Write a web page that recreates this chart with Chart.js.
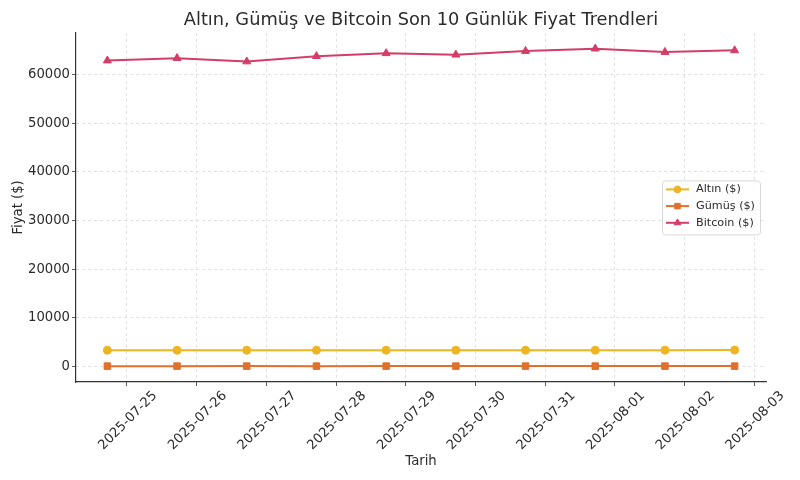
<!DOCTYPE html>
<html>
<head>
<meta charset="utf-8">
<script src="https://cdn.jsdelivr.net/npm/chart.js@4/dist/chart.umd.min.js"></script>
<style>
html,body{margin:0;padding:0;background:#fff;}
#wrap{width:800px;height:480px;}
</style>
</head>
<body>
<div id="wrap"><canvas id="c" width="800" height="480"></canvas></div>
<script>
const dates = ['2025-07-24T17:15','2025-07-25T17:15','2025-07-26T17:15','2025-07-27T17:15','2025-07-28T17:15',
               '2025-07-29T17:15','2025-07-30T17:15','2025-07-31T17:15','2025-08-01T17:15','2025-08-02T17:15'];
const altin   = [3300, 3305, 3310, 3308, 3312, 3318, 3320, 3322, 3325, 3330];
const gumus   = [37.5, 37.8, 38.0, 37.9, 38.1, 38.3, 38.2, 38.4, 38.5, 38.6];
const bitcoin = [62900, 63400, 62700, 63800, 64400, 64100, 64850, 65350, 64650, 65000];
const seriesNames = ['Altın ($)', 'Gümüş ($)', 'Bitcoin ($)'];
const yTicks = [0, 10000, 20000, 30000, 40000, 50000, 60000];
const titleText = 'Altın, Gümüş ve Bitcoin Son 10 Günlük Fiyat Trendleri';
const xTitle = 'Tarih';
const yTitle = 'Fiyat ($)';

const DAY = 86400000;
const xs = dates.map(d => Date.parse(d + ':00Z') / DAY);
const toPts = arr => arr.map((v, i) => ({x: xs[i], y: v}));
const fmt = v => new Date(Math.round(v) * DAY).toISOString().slice(0, 10);

const colors = ['#eeb422', '#e0702c', '#d43d68'];
const styles = ['circle', 'rect', 'triangle'];
const radii = [4, 4.6, 4.6];

const xSpan = xs[xs.length - 1] - xs[0];
const yMaxData = Math.max(...bitcoin);
const yMinData = Math.min(...gumus);
const yMargin = (yMaxData - yMinData) * 0.05;

const FONT = 'DejaVu Sans';
const TXT = '#2b2b2b';

const legendPlugin = {
  id: 'boxLegend',
  afterDraw(chart) {
    const ctx = chart.ctx;
    const ca = chart.chartArea;
    const w = 98, h = 54;
    const x0 = ca.right - 6 - w;
    const y0 = ca.top + (ca.bottom - ca.top) / 2 - h / 2;
    ctx.save();
    ctx.fillStyle = 'rgba(255,255,255,0.85)';
    ctx.strokeStyle = '#d8d8d8';
    ctx.lineWidth = 1;
    ctx.beginPath();
    if (ctx.roundRect) ctx.roundRect(x0 + 0.5, y0 + 0.5, w, h, 3); else ctx.rect(x0 + 0.5, y0 + 0.5, w, h);
    ctx.fill();
    ctx.stroke();
    ctx.font = '11.2px "' + FONT + '"';
    ctx.textBaseline = 'middle';
    ctx.textAlign = 'left';
    chart.data.datasets.forEach((ds, i) => {
      const cy = y0 + 9 + i * 16.7;
      ctx.strokeStyle = ds.borderColor;
      ctx.lineWidth = 2;
      ctx.beginPath();
      ctx.moveTo(x0 + 4, cy);
      ctx.lineTo(x0 + 27, cy);
      ctx.stroke();
      ctx.fillStyle = ds.borderColor;
      ctx.strokeStyle = ds.borderColor;
      ctx.lineWidth = 1;
      Chart.helpers.drawPoint(ctx, {pointStyle: ds.pointStyle, radius: ds.pointRadius * 0.85, borderWidth: 1}, x0 + 15.5, cy);
      ctx.fillStyle = TXT;
      ctx.fillText(ds.label, x0 + 34, cy);
    });
    ctx.restore();
  }
};

const mkDs = (i, arr) => ({
  label: seriesNames[i],
  data: toPts(arr),
  borderColor: colors[i],
  backgroundColor: colors[i],
  pointStyle: styles[i],
  pointRadius: radii[i],
  pointHoverRadius: radii[i],
  pointBorderWidth: 1,
  borderWidth: 2,
  tension: 0
});

new Chart(document.getElementById('c'), {
  type: 'line',
  data: { datasets: [mkDs(0, altin), mkDs(1, gumus), mkDs(2, bitcoin)] },
  plugins: [legendPlugin],
  options: {
    responsive: false,
    animation: false,
    devicePixelRatio: 1,
    layout: { padding: { left: 0, right: 34, top: 0, bottom: 11 } },
    plugins: {
      legend: { display: false },
      tooltip: { enabled: false },
      title: {
        display: true,
        text: titleText,
        fullSize: false,
        color: TXT,
        font: { family: FONT, size: 17.8, weight: 'normal', lineHeight: 1 },
        padding: { top: 11, bottom: 4 }
      }
    },
    scales: {
      x: {
        type: 'linear',
        min: xs[0] - xSpan * 0.05,
        max: xs[xs.length - 1] + xSpan * 0.05,
        afterBuildTicks(scale) {
          const t = [];
          for (let v = Math.ceil(scale.min); v <= Math.floor(scale.max); v++) t.push({value: v});
          scale.ticks = t;
        },
        afterFit(scale) { scale.height = 87; },
        ticks: {
          callback: v => fmt(v),
          maxRotation: 45,
          minRotation: 45,
          autoSkip: false,
          labelOffset: 28,
          padding: 2,
          color: TXT,
          font: { family: FONT, size: 13.2 }
        },
        grid: { color: '#d9d9d9', tickColor: '#333', tickLength: 4, lineWidth: 0.8 },
        border: { display: true, color: '#333', width: 1.2, dash: [3, 3] },
        title: { display: true, text: xTitle, color: TXT, font: { family: FONT, size: 13.2 }, padding: { top: 0, bottom: 0 } }
      },
      y: {
        type: 'linear',
        min: yMinData - yMargin,
        max: yMaxData + yMargin,
        afterBuildTicks(scale) { scale.ticks = yTicks.map(v => ({value: v})); },
        afterFit(scale) { scale.width = 76; },
        ticks: {
          callback: v => String(v),
          color: TXT,
          padding: 2,
          font: { family: FONT, size: 13.2 }
        },
        grid: { color: '#d9d9d9', tickColor: '#333', tickLength: 4, lineWidth: 0.8 },
        border: { display: true, color: '#333', width: 1.2, dash: [3, 3] },
        title: { display: true, text: yTitle, color: TXT, font: { family: FONT, size: 13.2 }, padding: { top: 11, bottom: 4 } }
      }
    }
  }
});
</script>
</body>
</html>
